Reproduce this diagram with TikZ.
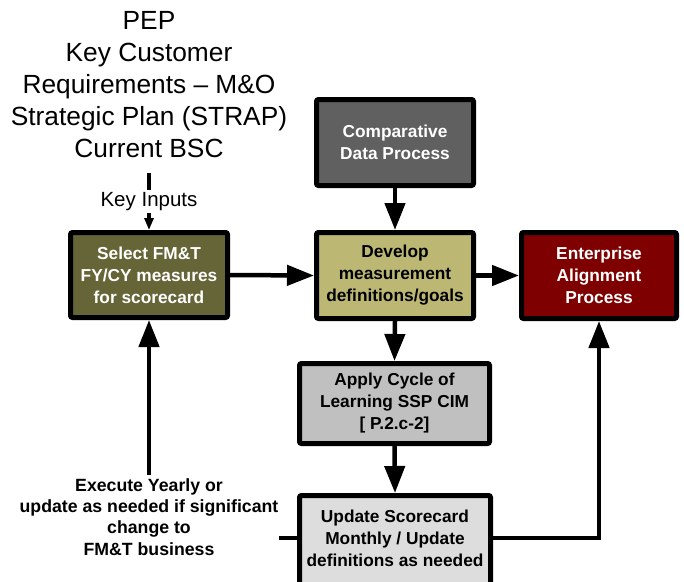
\documentclass[tikz,border=0pt]{standalone}
\usepackage{fontspec}
\setmainfont{Liberation Sans}
\usetikzlibrary{arrows.meta,backgrounds}

\definecolor{selectfill}{HTML}{656537}
\definecolor{developfill}{HTML}{BCB874}
\definecolor{compfill}{HTML}{606060}
\definecolor{entfill}{HTML}{7F0000}
\definecolor{applyfill}{HTML}{C0C0C0}
\definecolor{updatefill}{HTML}{DDDDDD}

\begin{document}
\begin{tikzpicture}[x=1pt,y=-1pt,
  procbox/.style={draw=black, line width=5pt, rounded corners=2pt,
    align=center, inner sep=2pt,
    font=\bfseries\fontsize{17.3}{22}\selectfont},
  flow/.style={line width=4.5pt, -{Triangle[length=27pt,width=20pt]}},
  thinflow/.style={line width=3.5pt, -{Triangle[length=12pt,width=9pt]}},
  plainline/.style={line width=4.5pt}]

\useasboundingbox (0,0) rectangle (684,581);

% source list and inputs
\node[align=center, font=\fontsize{26.3}{32}\selectfont] (sources) at (149,85)
  {PEP\\Key Customer\\Requirements -- M\&O\\Strategic Plan (STRAP)\\Current BSC};
\coordinate (kin) at (149,173);

% process boxes
\node[procbox, fill=selectfill, text=white, minimum width=157pt, minimum height=85pt]
  (select) at (149,275) {Select FM\&T\\FY/CY measures\\for scorecard};
\node[procbox, fill=compfill, text=white, minimum width=157pt, minimum height=86pt]
  (comp) at (395,142.5) {Comparative\\Data Process};
\node[procbox, fill=developfill, text=black, minimum width=157pt, minimum height=86pt]
  (develop) at (395,275.5) {Develop\\measurement\\definitions/goals};
\node[procbox, fill=entfill, text=white, minimum width=155pt, minimum height=86pt]
  (ent) at (599,275.5) {Enterprise\\Alignment\\Process};
\node[procbox, fill=applyfill, text=black, minimum width=190pt, minimum height=80pt]
  (apply) at (394.5,403.5) {Apply Cycle of\\Learning SSP CIM\\{[} P.2.c-2{]}};
\node[procbox, draw=none, text=black, minimum width=191pt, minimum height=85pt]
  (update) at (395,538) {Update Scorecard\\Monthly / Update\\definitions as needed};
\begin{scope}[on background layer]
  \clip (0,0) rectangle (684,581);
  \draw[line width=5pt, rounded corners=2pt, fill=updatefill]
    ([shift={(2.5,2.5)}]update.north west) rectangle ([shift={(-2.5,40)}]update.south east);
\end{scope}

% feedback label
\node[align=center, font=\bfseries\fontsize{17.7}{21.3}\selectfont] (exec) at (149,517)
  {Execute Yearly or\\update as needed if significant\\change to\\FM\&T business};
\coordinate (stub) at (279,538);

% connectors
\draw[thinflow] (kin) -- (select.north)
  node[midway, fill=white, inner sep=2pt, font=\fontsize{20.5}{24}\selectfont] (kilabel) {Key Inputs};
\draw[flow] (select.east) -- (develop.west);
\draw[flow] (comp.south) -- (develop.north);
\draw[flow] (develop.east) -- (ent.west);
\draw[flow] (develop.south) -- (apply.north);
\draw[flow] (apply.south) -- (update.north);
\draw[flow] (update.east) -| (ent.south);
\draw[plainline] (update.west) -- (stub);
\draw[flow] (exec.north) -- (select.south);

\end{tikzpicture}
\end{document}
